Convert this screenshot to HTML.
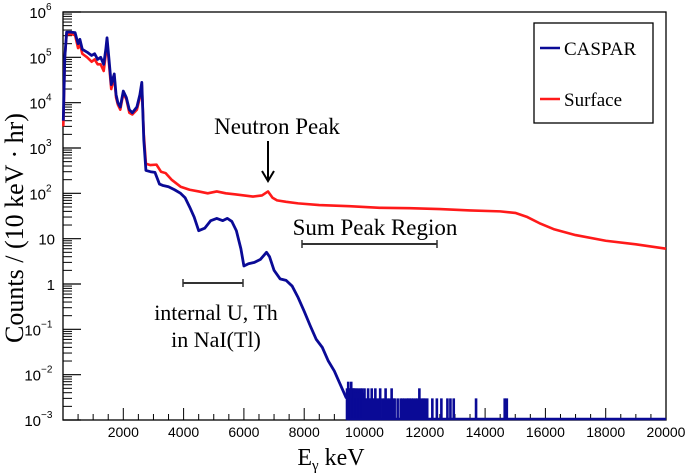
<!DOCTYPE html>
<html><head><meta charset="utf-8"><style>
body{margin:0;background:#fff}
svg{display:block;font-family:"Liberation Sans",sans-serif}
</style></head><body>
<svg id="chart" width="685" height="473">
<g id="plot"></g>
<g font-family="Liberation Serif, serif">
<rect x="534" y="23" width="119" height="100" fill="#fff" stroke="#000" stroke-width="1.3"/>
<line x1="540" y1="48" x2="560" y2="48" stroke="#0a0a96" stroke-width="2.6"/>
<text x="564" y="55" font-size="19">CASPAR</text>
<line x1="540" y1="99" x2="560" y2="99" stroke="#ff1a1a" stroke-width="2.6"/>
<text x="564" y="106" font-size="19">Surface</text>
</g>
<g font-family="Liberation Serif, serif">
<text x="277" y="134" font-size="23" text-anchor="middle">Neutron Peak</text>
<line x1="268" y1="141" x2="268" y2="180" stroke="#000" stroke-width="2"/>
<polyline points="262,171 268,181 274,171" fill="none" stroke="#000" stroke-width="2"/>
<text x="375" y="235" font-size="23" text-anchor="middle">Sum Peak Region</text>
<line x1="302" y1="244" x2="437" y2="244" stroke="#333" stroke-width="2"/>
<line x1="302" y1="240" x2="302" y2="248" stroke="#333" stroke-width="1.5"/>
<line x1="437" y1="240" x2="437" y2="248" stroke="#333" stroke-width="1.5"/>
<line x1="183" y1="283" x2="243" y2="283" stroke="#333" stroke-width="2"/>
<line x1="183" y1="279" x2="183" y2="287" stroke="#333" stroke-width="1.5"/>
<line x1="243" y1="279" x2="243" y2="287" stroke="#333" stroke-width="1.5"/>
<text x="216" y="320" font-size="22" text-anchor="middle">internal U, Th</text>
<text x="216" y="347" font-size="22" text-anchor="middle">in NaI(Tl)</text>
<text x="331" y="465" font-size="24" text-anchor="middle">E<tspan font-size="15" dy="5">γ</tspan><tspan dy="-5"> keV</tspan></text>
<text transform="translate(23,228) rotate(-90)" font-size="26" text-anchor="middle">Counts / (10 keV · hr)</text>
</g>
</svg>
<script>
const xTicks=[2000,4000,6000,8000,10000,12000,14000,16000,18000,20000];
const yExps=[-3,-2,-1,0,1,2,3,4,5,6];
const casparE=[10,60,120,250,400,500,560,640,800,950,1050,1150,1250,1350,1420,1460,1520,1600,1700,1760,1820,1900,2000,2100,2200,2300,2450,2550,2614,2680,2750,2900,3050,3200,3300,3500,3700,3900,4050,4200,4350,4500,4700,4900,5100,5300,5450,5600,5750,5900,6000,6150,6350,6550,6750,6850,7000,7200,7400,7600,7800,8000,8200,8400,8600,8800,9000,9200,9400];
const casparV=[4e3,1e5,3.6e5,3.6e5,3.5e5,2e5,2.5e5,1.5e5,1.3e5,1.1e5,1.2e5,9e4,1e5,7e4,1.5e5,2.7e5,1e5,2.5e4,4.3e4,1.5e4,1e4,8e3,1.8e4,1.3e4,7e3,6e3,8e3,1.5e4,2.8e4,1.5e3,320,300,290,160,150,140,120,100,80,50,30,15,17,25,28,25,28,24,15,6,2.5,2.8,3,3.5,5,4,2,1.3,1.2,0.9,0.5,0.25,0.12,0.06,0.04,0.02,0.012,0.006,0.003];
const surfaceE=[10,60,120,250,400,500,560,640,800,950,1050,1150,1250,1350,1420,1460,1520,1600,1700,1760,1820,1900,2000,2100,2200,2300,2450,2550,2614,2680,2750,2900,3100,3250,3400,3600,3900,4200,4500,4800,5100,5400,5700,6000,6300,6600,6800,6950,7100,7400,7800,8500,9500,10500,11500,12500,13500,14500,15000,15400,15800,16300,17000,18000,19000,20000];
const surfaceV=[3e3,1e5,3.2e5,3.3e5,3.1e5,1.6e5,2e5,1.2e5,1e5,8e4,9e4,7e4,7e4,5e4,1.2e5,2.4e5,8e4,2e4,3.8e4,1.3e4,9e3,7e3,1.6e4,1.2e4,6e3,5.5e3,7e3,1.3e4,2.5e4,2e3,450,420,430,300,280,200,140,120,110,100,110,100,95,90,85,90,110,80,70,65,60,55,52,48,47,45,42,40,37,30,22,16,12,9,7.5,6];
const noiseE=[9420,9440,9460,9480,9500,9520,9540,9560,9580,9600,9620,9640,9660,9680,9700,9720,9740,9760,9780,9800,9820,9840,9860,9880,9900,9920,9940,9960,9980,10000,10040,10080,10120,10160,10200,10240,10280,10320,10360,10420,10480,10520,10600,10660,10700,10760,10820,10900,10960,11000,11100,11200,11260,11320,11400,11450,11500,11560,11620,11700,11760,11820,11880,11950,12000,12080,12250,12400,12550,12750,12850,12960,13700,14650,14720];
const noiseV=[0.005,0.003,0.007,0.004,0.005,0.003,0.005,0.007,0.004,0.005,0.003,0.005,0.005,0.004,0.003,0.005,0.003,0.004,0.005,0.003,0.004,0.003,0.005,0.004,0.003,0.005,0.003,0.004,0.003,0.005,0.003,0.003,0.005,0.003,0.003,0.005,0.003,0.003,0.005,0.003,0.003,0.005,0.003,0.003,0.005,0.003,0.003,0.005,0.003,0.003,0.003,0.003,0.003,0.003,0.003,0.003,0.003,0.003,0.003,0.003,0.003,0.005,0.003,0.003,0.003,0.003,0.003,0.003,0.003,0.003,0.003,0.003,0.003,0.003,0.003];
const L=63,R=666,T=12,B=420;
const xS=e=>L+e*(R-L)/20000;
const yS=v=>B-(Math.log10(v)+3)*(B-T)/9;
const NS="http://www.w3.org/2000/svg";
const g=document.getElementById('plot');
function mk(t,a,txt){const e=document.createElementNS(NS,t);for(const k in a)e.setAttribute(k,a[k]);if(txt!==undefined)e.textContent=txt;g.appendChild(e);return e;}
let fr=mk('rect',{x:L,y:T,width:R-L,height:B-T,fill:'none',stroke:'#000','stroke-width':1.3});


for(let e=500;e<=20000;e+=500){const big=e%2000===0;const t=mk('line',{x1:xS(e),x2:xS(e),y1:B,y2:B-(big?12:6),stroke:'#000','stroke-width':1});

}
xTicks.forEach(v=>{const t=mk('text',{x:xS(v),y:437,'font-size':14,'text-anchor':'middle'},String(v));

});
yExps.forEach(p=>{const y=yS(Math.pow(10,p));
const t=mk('line',{x1:L,x2:L+18,y1:y,y2:y,stroke:'#000','stroke-width':1.2});


if(p<6){for(let m=2;m<=9;m++){const ym=yS(m*Math.pow(10,p));const mt=mk('line',{x1:L,x2:L+9,y1:ym,y2:ym,stroke:'#000','stroke-width':1});

}}
let lab;
if(p===0)lab=mk('text',{x:55,y:y+6,'font-size':15,'text-anchor':'end'},'1');
else if(p===1)lab=mk('text',{x:55,y:y+6,'font-size':15,'text-anchor':'end'},'10');
else{lab=mk('text',{x:p<0?41:46,y:y+6,'font-size':15,'text-anchor':'end'},'10');
const s=mk('text',{x:p<0?41:46,y:y-2,'font-size':10},p<0?'\u2212'+(-p):String(p));

}

});
let rp=surfaceE.map((e,i)=>xS(e)+','+yS(surfaceV[i])).join(' ');
const red=mk('polyline',{points:rp,fill:'none',stroke:'#ff1a1a','stroke-width':2.6,'stroke-linejoin':'round'});


let bp=casparE.map((e,i)=>xS(e)+','+yS(casparV[i])).join(' ');
const blue=mk('polyline',{points:bp,fill:'none',stroke:'#0a0a96','stroke-width':2.8,'stroke-linejoin':'round'});


noiseE.forEach((e,i)=>{const s=mk('rect',{x:xS(e)-1.3,y:yS(noiseV[i]),width:2.6,height:B-yS(noiseV[i]),fill:'#0a0a96'});

});
const base=mk('line',{x1:xS(9400),x2:R,y1:B-1,y2:B-1,stroke:'#0a0a96','stroke-width':2.5});


</script>
</body></html>
